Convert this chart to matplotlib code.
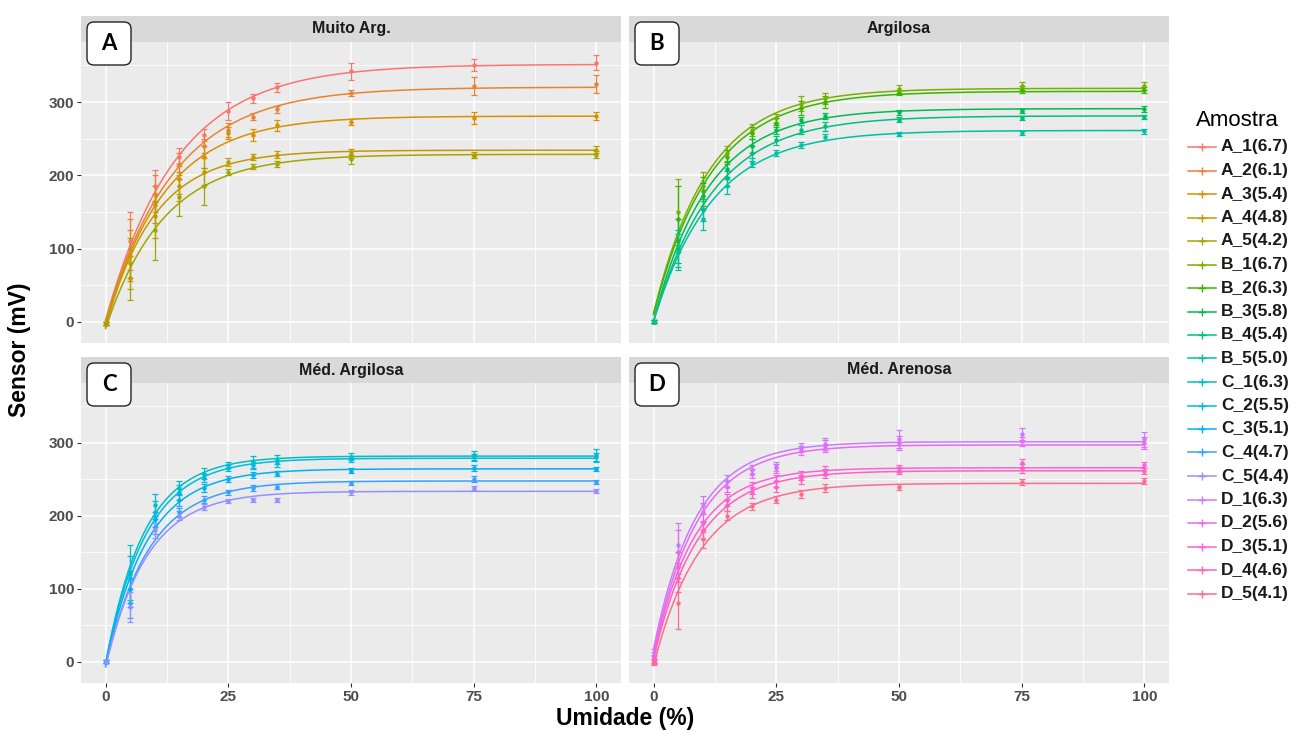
import numpy as np
import matplotlib.pyplot as plt
from matplotlib.lines import Line2D
from matplotlib.patches import FancyBboxPatch

plt.rcParams['font.family'] = ['Liberation Sans', 'DejaVu Sans']

##### dados (média e meia-amplitude da barra de erro)
umidade = [0, 5, 10, 15, 20, 25, 30, 35, 50, 75, 100]

amostras = ['A_1(6.7)', 'A_2(6.1)', 'A_3(5.4)', 'A_4(4.8)', 'A_5(4.2)',
            'B_1(6.7)', 'B_2(6.3)', 'B_3(5.8)', 'B_4(5.4)', 'B_5(5.0)',
            'C_1(6.3)', 'C_2(5.5)', 'C_3(5.1)', 'C_4(4.7)', 'C_5(4.4)',
            'D_1(6.3)', 'D_2(5.6)', 'D_3(5.1)', 'D_4(4.6)', 'D_5(4.1)']

texturas = ['Muito Arg.', 'Argilosa', 'Méd. Argilosa', 'Méd. Arenosa']
letras = ['A', 'B', 'C', 'D']

sensor_A = [[-3, 110, 185, 225, 255, 288, 305, 320, 342, 351, 354],
            [-3, 100, 175, 215, 240, 262, 280, 290, 312, 322, 325],
            [-3, 90, 160, 195, 225, 258, 255, 268, 273, 278, 281],
            [-3, 80, 145, 185, 205, 218, 225, 228, 230, 228, 235],
            [-3, 60, 125, 170, 185, 205, 212, 216, 222, 226, 228]]
erro_A = [[2, 40, 22, 12, 8, 12, 6, 6, 12, 8, 10],
          [2, 40, 25, 15, 10, 10, 5, 5, 4, 12, 12],
          [2, 35, 25, 20, 15, 8, 8, 8, 4, 8, 5],
          [2, 35, 30, 20, 18, 5, 4, 5, 6, 4, 5],
          [2, 30, 40, 25, 25, 4, 4, 4, 6, 3, 5]]

sensor_B = [[0, 150, 185, 230, 262, 278, 298, 305, 318, 322, 322],
            [0, 140, 178, 225, 258, 272, 292, 300, 313, 317, 316],
            [0, 110, 172, 208, 240, 262, 276, 281, 286, 288, 290],
            [0, 100, 152, 196, 230, 248, 262, 267, 276, 278, 280],
            [0, 95, 140, 185, 217, 230, 241, 252, 256, 258, 260]]
erro_B = [[2, 45, 20, 10, 8, 6, 10, 8, 5, 5, 5],
          [2, 45, 20, 10, 8, 6, 10, 8, 4, 5, 4],
          [2, 30, 18, 10, 10, 6, 4, 4, 3, 3, 4],
          [2, 25, 15, 10, 10, 6, 6, 6, 3, 3, 3],
          [2, 25, 15, 10, 6, 4, 4, 4, 3, 3, 3]]

sensor_C = [[0, 120, 215, 238, 258, 270, 274, 277, 281, 283, 283],
            [0, 115, 205, 232, 252, 265, 270, 273, 278, 280, 280],
            [0, 100, 195, 222, 238, 250, 256, 258, 262, 266, 264],
            [0, 80, 185, 205, 222, 232, 238, 240, 245, 250, 246],
            [0, 75, 180, 200, 212, 220, 222, 222, 232, 238, 234]]
erro_C = [[2, 40, 15, 10, 8, 4, 8, 6, 5, 6, 8],
          [2, 30, 15, 10, 6, 4, 6, 6, 4, 5, 6],
          [2, 25, 10, 8, 6, 4, 4, 4, 3, 4, 3],
          [2, 20, 10, 6, 5, 4, 4, 3, 3, 4, 3],
          [2, 20, 10, 6, 4, 3, 3, 3, 3, 3, 3]]

sensor_D = [[10, 160, 215, 248, 263, 268, 294, 298, 305, 312, 305],
            [5, 150, 205, 240, 258, 265, 290, 296, 300, 302, 300],
            [5, 130, 190, 222, 238, 248, 255, 262, 265, 272, 270],
            [3, 115, 180, 215, 232, 240, 250, 258, 262, 265, 262],
            [0, 80, 168, 200, 213, 222, 230, 238, 240, 246, 248]]
erro_D = [[8, 30, 12, 8, 6, 6, 6, 8, 12, 8, 10],
          [8, 30, 12, 8, 6, 6, 6, 8, 10, 6, 8],
          [5, 20, 12, 8, 8, 8, 6, 6, 5, 6, 4],
          [5, 20, 12, 8, 8, 8, 6, 6, 5, 6, 4],
          [4, 35, 12, 6, 5, 5, 5, 5, 4, 4, 4]]

cores = ['#F8766D', '#EA8331', '#D89000', '#C09B00', '#A3A500',
         '#7CAE00', '#39B600', '#00BB4E', '#00BF7D', '#00C1A3',
         '#00BFC4', '#00BAE0', '#00B0F6', '#35A2FF', '#9590FF',
         '#C77CFF', '#E76BF3', '#FA62DB', '#FF62BC', '#FF6C91']

W, H = 1293, 731


def rect(x0, y0, x1, y1):
    # pixels (topo-esquerda) -> fração da figura
    return [x0 / W, 1 - y1 / H, (x1 - x0) / W, (y1 - y0) / H]


def ajuste(x, y):
    # y = a*(1-exp(-b*x)) + c, busca em b e mínimos quadrados em a, c
    x = np.asarray(x, float)
    y = np.asarray(y, float)
    melhor = None
    for b in np.linspace(0.01, 0.6, 600):
        M = np.column_stack([1 - np.exp(-b * x), np.ones_like(x)])
        coef = np.linalg.lstsq(M, y, rcond=None)[0]
        sse = np.sum((M @ coef - y) ** 2)
        if melhor is None or sse < melhor[0]:
            melhor = (sse, coef[0], b, coef[1])
    return melhor[1:]


fig = plt.figure(figsize=(W / 100, H / 100), dpi=100)

# (x0, x1) de cada coluna, (topo faixa, topo painel, base painel) de cada linha
colunas = [(81, 621), (629, 1169)]
linhas = [(16, 42, 343), (357, 383, 683)]
dados = [(sensor_A, erro_A), (sensor_B, erro_B), (sensor_C, erro_C), (sensor_D, erro_D)]

xx = np.linspace(0, 100, 300)
for p in range(4):
    lin, col = divmod(p, 2)
    x0, x1 = colunas[col]
    ys, yt, yb = linhas[lin]

    ax = fig.add_axes(rect(x0, yt, x1, yb))
    ax.set_facecolor('#EBEBEB')
    ax.set_xlim(-5, 105)
    ax.set_ylim(-29, 382)
    ax.set_xticks([0, 25, 50, 75, 100])
    ax.set_yticks([0, 100, 200, 300])
    ax.set_xticks([12.5, 37.5, 62.5, 87.5], minor=True)
    ax.set_yticks([50, 150, 250, 350], minor=True)
    ax.grid(True, which='major', color='white', lw=1.1)
    ax.grid(True, which='minor', color='white', lw=0.55)
    ax.set_axisbelow(True)
    for s in ax.spines.values():
        s.set_visible(False)
    ax.tick_params(which='minor', length=0)
    ax.tick_params(which='major', length=3, width=0.8, color='#333333',
                   labelsize=11, labelcolor='#4D4D4D', pad=2)
    for t in ax.get_xticklabels() + ax.get_yticklabels():
        t.set_fontweight('bold')
    if col == 1:
        ax.tick_params(axis='y', left=False, labelleft=False)
    if lin == 0:
        ax.tick_params(axis='x', bottom=False, labelbottom=False)

    medias, erros = dados[p]
    for k in range(5):
        cor = cores[p * 5 + k]
        a, b, c = ajuste(umidade, medias[k])
        ax.plot(xx, a * (1 - np.exp(-b * xx)) + c, color=cor, lw=1.1)
        ax.errorbar(umidade, medias[k], yerr=erros[k], fmt='o', ms=2.2,
                    color=cor, elinewidth=0.9, capsize=2, capthick=0.9)

    # faixa com o nome da textura
    strip = fig.add_axes(rect(x0, ys, x1, yt))
    strip.set_facecolor('#D9D9D9')
    strip.set_xticks([])
    strip.set_yticks([])
    for s in strip.spines.values():
        s.set_visible(False)
    strip.text(0.5, 0.5, texturas[p], ha='center', va='center',
               fontsize=11.5, fontweight='bold', color='#1A1A1A')

    # caixa com a letra
    bx0, by0 = x0 + 6, ys + 6
    caixa = FancyBboxPatch((bx0 / 100, (H - by0 - 43) / 100), 0.44, 0.43,
                           boxstyle='round,pad=0,rounding_size=0.07',
                           transform=fig.dpi_scale_trans, fc='white',
                           ec='#222222', lw=1.0, zorder=10)
    fig.add_artist(caixa)
    fig.text((bx0 + 22) / W, 1 - (by0 + 21.5) / H, letras[p], ha='center',
             va='center', fontsize=16, fontweight='bold', zorder=11,
             family=['Lato', 'DejaVu Sans'])

fig.text(20 / W, 1 - 350 / H, 'Sensor (mV)', rotation=90, ha='center',
         va='center', fontsize=16.5, fontweight='bold')
fig.text(625 / W, 1 - 718 / H, 'Umidade (%)', ha='center', va='center',
         fontsize=16.5, fontweight='bold')

# legenda
fig.text(1196 / W, 1 - 121 / H, 'Amostra', ha='left', va='center', fontsize=16)
for i, nome in enumerate(amostras):
    y = 1 - (147 + i * 23.5) / H
    fig.add_artist(Line2D([1188 / W, 1216 / W], [y, y], transform=fig.transFigure,
                          color=cores[i], lw=1.1))
    fig.add_artist(Line2D([1202 / W], [y], transform=fig.transFigure,
                          color=cores[i], marker='+', ms=6, mew=1.0))
    fig.text(1221 / W, y, nome, ha='left', va='center', fontsize=12.5,
             fontweight='bold', color='#1A1A1A')

fig.savefig('out.png', dpi=100)
